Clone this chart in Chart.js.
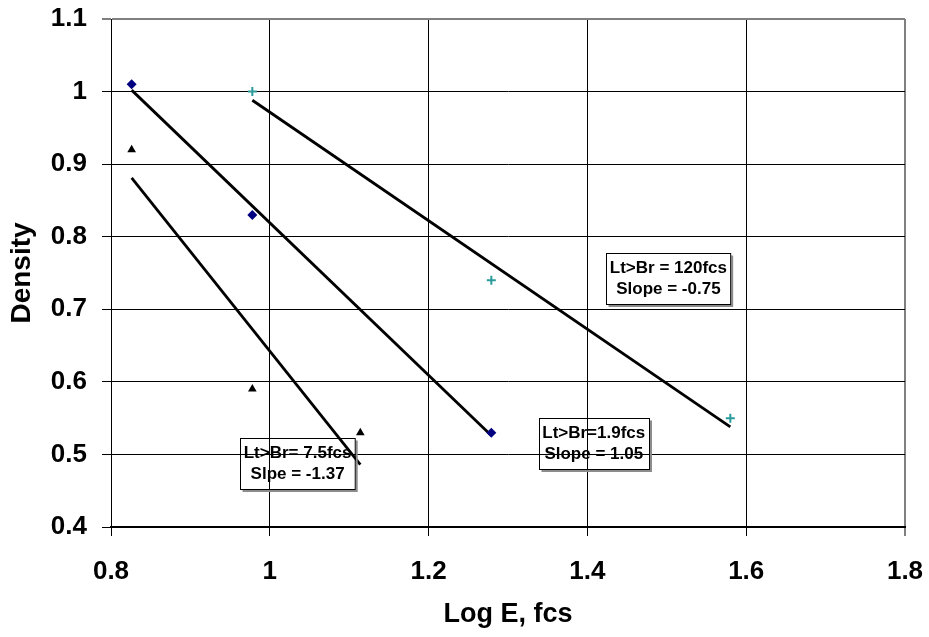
<!DOCTYPE html>
<html>
<head>
<meta charset="utf-8">
<title>Density vs Log E</title>
<script src="https://cdn.jsdelivr.net/npm/chart.js@4.4.1/dist/chart.umd.min.js"></script>
<style>
  html, body { margin: 0; padding: 0; background: #ffffff; }
  #wrap { width: 929px; height: 637px; }
</style>
</head>
<body>
<div id="wrap"><canvas id="c" width="929" height="637"></canvas></div>
<script>
// Measured points, log10 of exposure (fcs) against density
const seriesAX = [0.826, 0.978, 1.279];   // Lt>Br = 1.9 fcs
const seriesAY = [1.01, 0.83, 0.53];
const seriesBX = [0.826, 0.978, 1.114];   // Lt>Br = 7.5 fcs
const seriesBY = [0.92, 0.59, 0.53];
const seriesCX = [0.978, 1.279, 1.580];   // Lt>Br = 120 fcs
const seriesCY = [1.00, 0.74, 0.55];

// Linear trend lines, start and end of each fitted segment
const trendAX = [0.826, 1.279];
const trendAY = [1.002, 0.526];
const trendBX = [0.826, 1.114];
const trendBY = [0.881, 0.486];
const trendCX = [0.978, 1.580];
const trendCY = [0.988, 0.538];

// Axis ranges and steps
const xRange = [0.8, 1.8];
const xStep = 0.2;
const yRange = [0.4, 1.1];
const yStep = 0.1;

// Text boxes
const boxLines = [
  ['Lt>Br = 120fcs', 'Slope = -0.75'],
  ['Lt>Br=1.9fcs', 'Slope = 1.05'],
  ['Lt>Br= 7.5fcs', 'Slpe = -1.37']
];
const boxAnchors = [
  { x: 1.502, y: 0.742 },
  { x: 1.408, y: 0.515 },
  { x: 1.035, y: 0.487 }
];

const pts = (xs, ys) => xs.map((x, i) => ({ x: x, y: ys[i] }));

const FONT = "'Liberation Sans', Arial, sans-serif";

const textBoxes = {
  id: 'textBoxes',
  afterDatasetsDraw(chart) {
    const { ctx, scales } = chart;
    ctx.save();
    ctx.font = 'bold 17px ' + FONT;
    ctx.textAlign = 'center';
    ctx.textBaseline = 'middle';
    const lineH = 21;
    boxLines.forEach((lines, i) => {
      const cx = scales.x.getPixelForValue(boxAnchors[i].x);
      const cy = scales.y.getPixelForValue(boxAnchors[i].y);
      const w = Math.max(...lines.map(l => ctx.measureText(l).width)) + 7;
      const h = lines.length * lineH + 9;
      const left = Math.round(cx - w / 2) + 0.5;
      const top = Math.round(cy - h / 2) + 0.5;
      // drop shadow
      ctx.strokeStyle = '#8c8c8c';
      ctx.lineWidth = 2;
      ctx.beginPath();
      ctx.moveTo(left + w + 1.5, top + 2);
      ctx.lineTo(left + w + 1.5, top + h + 1.5);
      ctx.lineTo(left + 2, top + h + 1.5);
      ctx.stroke();
      // frame
      ctx.strokeStyle = '#000000';
      ctx.lineWidth = 1;
      ctx.strokeRect(left, top, w, h);
      ctx.fillStyle = '#000000';
      lines.forEach((l, k) => {
        ctx.fillText(l, cx, cy + (k - (lines.length - 1) / 2) * lineH);
      });
    });
    ctx.restore();
  }
};

const gridColor = (edgeValue) => (c) =>
  (c.tick && Math.abs(c.tick.value - edgeValue) < 1e-9) ? '#808080' : '#000000';
const gridWidth = (edgeValue) => (c) =>
  (c.tick && Math.abs(c.tick.value - edgeValue) < 1e-9) ? 2 : 1;

// "1" rather than "1.0"
const tickText = (v) => String(Number(Number(v).toFixed(1)));

// fixed axis sizes, no overflow padding from edge labels
const fixSize = (prop, size) => (s) => {
  s[prop] = size;
  s.paddingTop = 0; s.paddingBottom = 0; s.paddingLeft = 0; s.paddingRight = 0;
};

new Chart(document.getElementById('c'), {
  type: 'scatter',
  data: {
    datasets: [
      {
        label: 'Lt>Br=1.9fcs',
        data: pts(seriesAX, seriesAY),
        pointStyle: 'rectRot',
        pointRadius: 5,
        backgroundColor: '#000080',
        borderColor: '#000080',
        borderWidth: 0
      },
      {
        label: 'Lt>Br=7.5fcs',
        data: pts(seriesBX, seriesBY),
        pointStyle: 'triangle',
        pointRadius: 5,
        backgroundColor: '#000000',
        borderColor: '#000000',
        borderWidth: 0
      },
      {
        label: 'Lt>Br=120fcs',
        data: pts(seriesCX, seriesCY),
        pointStyle: 'cross',
        pointRadius: 4.5,
        backgroundColor: '#2a9a9a',
        borderColor: '#2a9a9a',
        borderWidth: 2
      },
      {
        label: 'trend 1.9fcs',
        data: pts(trendAX, trendAY),
        showLine: true,
        pointRadius: 0,
        borderColor: '#000000',
        borderWidth: 2.8
      },
      {
        label: 'trend 7.5fcs',
        data: pts(trendBX, trendBY),
        showLine: true,
        pointRadius: 0,
        borderColor: '#000000',
        borderWidth: 2.8
      },
      {
        label: 'trend 120fcs',
        data: pts(trendCX, trendCY),
        showLine: true,
        pointRadius: 0,
        borderColor: '#000000',
        borderWidth: 2.8
      }
    ]
  },
  options: {
    responsive: false,
    devicePixelRatio: 1,
    animation: false,
    layout: { padding: { top: 19, right: 24, bottom: 0, left: 0 } },
    plugins: {
      legend: { display: false },
      tooltip: { enabled: false }
    },
    scales: {
      x: {
        type: 'linear',
        min: xRange[0],
        max: xRange[1],
        afterFit: fixSize('height', 110),
        ticks: {
          stepSize: xStep,
          color: '#000000',
          padding: 20,
          callback: tickText,
          font: { family: FONT, size: 26, weight: 'bold' }
        },
        grid: {
          color: gridColor(xRange[1]),
          lineWidth: gridWidth(xRange[1]),
          tickLength: 9
        },
        border: { color: '#000000', width: 2 },
        title: {
          display: true,
          text: 'Log E, fcs',
          color: '#000000',
          padding: { top: 0, bottom: 6 },
          font: { family: FONT, size: 27, weight: 'bold' }
        }
      },
      y: {
        type: 'linear',
        min: yRange[0],
        max: yRange[1],
        afterFit: fixSize('width', 111),
        ticks: {
          stepSize: yStep,
          color: '#000000',
          padding: 15,
          callback: tickText,
          font: { family: FONT, size: 26, weight: 'bold' }
        },
        grid: {
          color: gridColor(yRange[1]),
          lineWidth: gridWidth(yRange[1]),
          tickLength: 9
        },
        border: { color: '#000000', width: 1 },
        title: {
          display: true,
          text: 'Density',
          color: '#000000',
          padding: { top: 5, bottom: 0 },
          font: { family: FONT, size: 28, weight: 'bold' }
        }
      }
    }
  },
  plugins: [textBoxes]
});
</script>
</body>
</html>
